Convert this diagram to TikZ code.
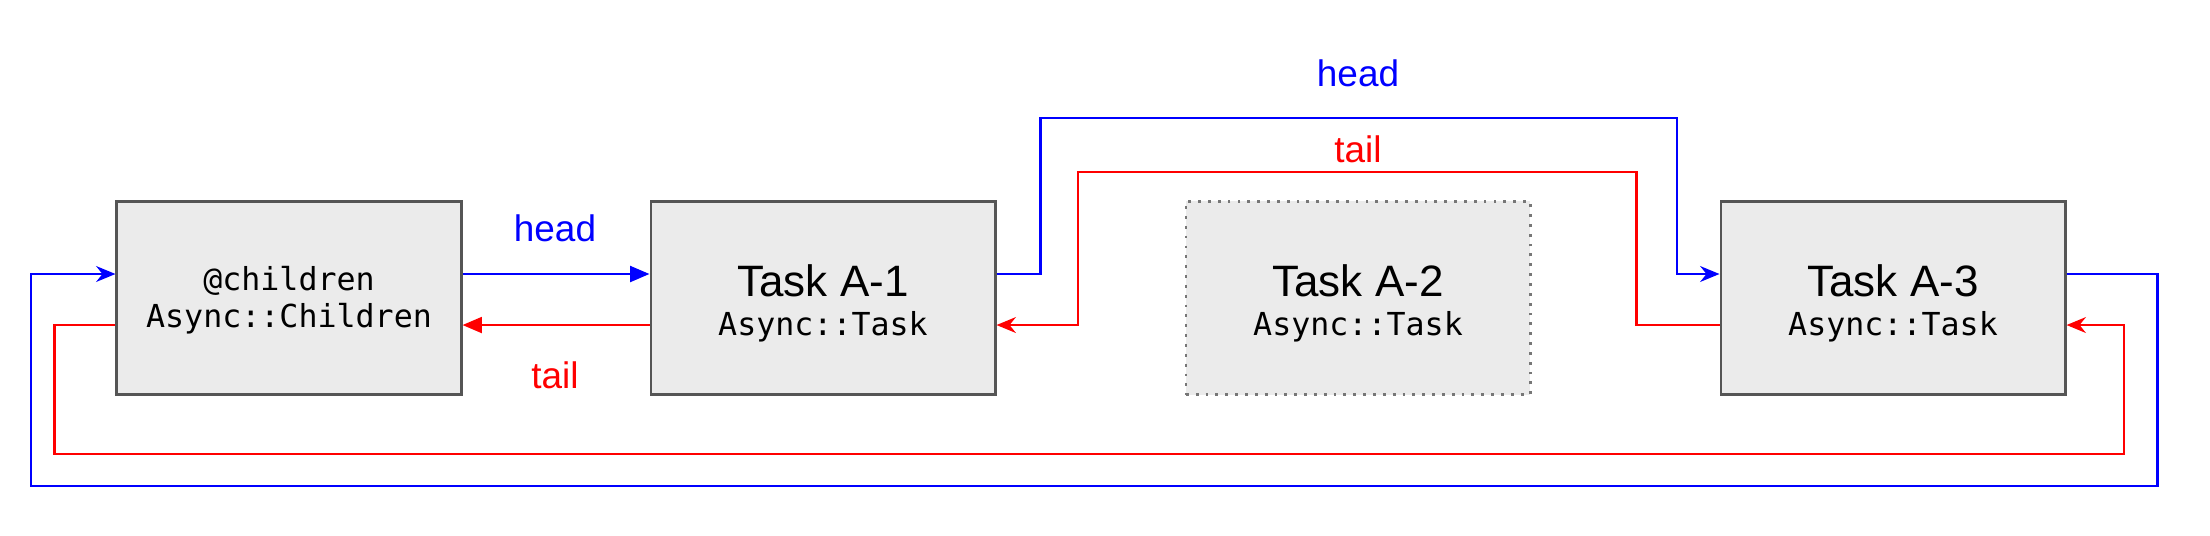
\documentclass[tikz,border=0pt]{standalone}
\usepackage{fontspec}
\setsansfont{Liberation Sans}
\setmonofont{DejaVu Sans Mono}
\usetikzlibrary{arrows.meta}

\definecolor{boxgray}{RGB}{235,235,235}
\definecolor{edgegray}{RGB}{85,85,85}

\begin{document}
\begin{tikzpicture}[
  x=0.01cm, y=-0.01cm,
  font=\sffamily,
  taskbox/.style={draw=edgegray, line width=0.8pt, fill=boxgray,
    minimum width=3.44cm, minimum height=1.93cm, inner sep=0pt,
    align=center, font=\sffamily\fontsize{9}{11}\selectfont,
    text height=21.4pt, text depth=0pt},
  headline/.style={blue, line width=0.7pt},
  tailline/.style={red, line width=0.7pt},
  linklabel/.style={font=\sffamily\fontsize{10.5}{12}\selectfont}
]
% pixel grid of the reference: x to the right, y downwards
\useasboundingbox (0,0) rectangle (2210,535);
% offsets of the head / tail lanes from the box centre
\def\dHead{2.4mm}
\def\dTail{-2.7mm}

% ---- Boxes ----
\node[taskbox, text height=17pt] (children) at (289,298) {\ttfamily @children\\[-0.5pt]\ttfamily Async::Children};
\node[taskbox] (taskOne) at (823,298) {{\fontsize{12.5}{14}\selectfont Task A-1}\\\ttfamily Async::Task};
\node[taskbox, dotted, draw=edgegray!80] (taskTwo) at (1358,298) {{\fontsize{12.5}{14}\selectfont Task A-2}\\\ttfamily Async::Task};
\node[taskbox] (taskThree) at (1893,298) {{\fontsize{12.5}{14}\selectfont Task A-3}\\\ttfamily Async::Task};

% ---- Direct links children <-> A-1 (block tips) ----
\draw[headline, -{Triangle[length=5.5pt, width=4.5pt]}] ([yshift=\dHead]children.east) -- ([yshift=\dHead]taskOne.west);
\draw[tailline, -{Triangle[length=5.5pt, width=4.5pt]}] ([yshift=\dTail]taskOne.west) -- ([yshift=\dTail]children.east);
\node[linklabel, blue] (headNear) at (555,228) {head};
\node[linklabel, red] (tailNear) at (555,375) {tail};

% ---- Links over A-2 ----
\draw[headline, -{Stealth[length=5.5pt, width=4.5pt, inset=1.8pt]}] ([yshift=\dHead]taskOne.east) -- ++(44,0) |- (1677,118) |- ([yshift=\dHead]taskThree.west);
\draw[tailline, -{Stealth[length=5.5pt, width=4.5pt, inset=1.8pt]}] ([yshift=\dTail]taskThree.west) -- ++(-83,0) |- (1078,172) |- ([yshift=\dTail]taskOne.east);
\node[linklabel, blue] (headFar) at (1358,73) {head};
\node[linklabel, red] (tailFar) at (1358,149) {tail};

% ---- Wrap-around links A-3 <-> children ----
\draw[headline, -{Stealth[length=5.5pt, width=4.5pt, inset=1.8pt]}] ([yshift=\dHead]taskThree.east) -- ++(91,0) |- (31,486) |- ([yshift=\dHead]children.west);
\draw[tailline, -{Stealth[length=5.5pt, width=4.5pt, inset=1.8pt]}] ([yshift=\dTail]children.west) -- ++(-61,0) |- (2124,454) |- ([yshift=\dTail]taskThree.east);

\end{tikzpicture}
\end{document}
